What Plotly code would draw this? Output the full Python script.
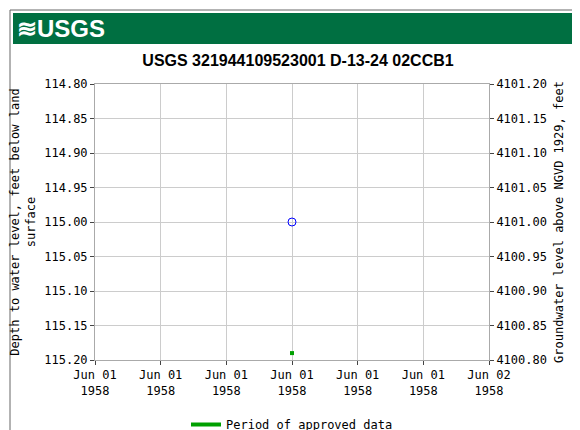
import plotly.graph_objects as go

title = "USGS 321944109523001 D-13-24 02CCB1"
tick_times = ["1958-06-01 00:00", "1958-06-01 04:00", "1958-06-01 08:00", "1958-06-01 12:00",
              "1958-06-01 16:00", "1958-06-01 20:00", "1958-06-02 00:00"]
tick_labels = ["Jun 01<br>1958"] * 6 + ["Jun 02<br>1958"]
point_time = ["1958-06-01 12:00"]
depth = [115.00]
approved_time = ["1958-06-01 12:00"]
approved_depth = [115.19]
left_ticks = [114.80, 114.85, 114.90, 114.95, 115.00, 115.05, 115.10, 115.15, 115.20]
right_ticks = [4101.20, 4101.15, 4101.10, 4101.05, 4101.00, 4100.95, 4100.90, 4100.85, 4100.80]

font = dict(family="DejaVu Sans Mono", size=12, color="black")
fig = go.Figure()
fig.add_trace(go.Scatter(x=point_time, y=depth, mode="markers", showlegend=False,
                         marker=dict(symbol="circle-open", size=8, color="#0000ff", line=dict(width=1))))
fig.add_trace(go.Scatter(x=approved_time, y=approved_depth, mode="markers", showlegend=False,
                         marker=dict(symbol="square", size=4, color="#00a000")))
fig.add_trace(go.Scatter(x=[None], y=[None], mode="lines", name="Period of approved data",
                         line=dict(color="#00a000", width=4)))
fig.add_trace(go.Scatter(x=point_time, y=[4101.0], yaxis="y2", mode="markers",
                         marker=dict(opacity=0), showlegend=False, hoverinfo="skip"))

axcommon = dict(showgrid=True, gridcolor="#cccccc", showline=True, linecolor="#aaaaaa",
                ticks="outside", ticklen=4, tickfont=font, zeroline=False, automargin=False)
W, H = 394, 276
fig.update_layout(
    width=580, height=430, margin=dict(l=87, r=99, t=76, b=78, autoexpand=False),
    paper_bgcolor="white", plot_bgcolor="white", font=font,
    title=dict(text="<b>" + title + "</b>", x=0.5, xanchor="center", y=1 - 52/430, yanchor="middle",
               font=dict(family="Liberation Sans Narrow, Arial Narrow, Liberation Sans", size=16)),
    xaxis=dict(type="date", range=[tick_times[0], tick_times[-1]], tickvals=tick_times,
               ticktext=tick_labels, mirror=True, **axcommon),
    yaxis=dict(range=[115.20, 114.80], tickvals=left_ticks,
               ticktext=[f"{v:.2f}" for v in left_ticks], mirror=True,
               title=dict(text="Depth to water level, feet below land<br>surface", font=font, standoff=8), **axcommon),
    yaxis2=dict(range=[4100.80, 4101.20], overlaying="y", side="right", tickvals=right_ticks,
                ticktext=[f"{v:.2f}" for v in right_ticks], showgrid=False, ticks="outside",
                ticklen=4, tickfont=font, zeroline=False, automargin=False,
                title=dict(text="Groundwater level above NGVD 1929, feet", font=font, standoff=8)),
    legend=dict(orientation="h", x=0.5, xanchor="center", y=-(402-352)/H, yanchor="top", font=font,
                bgcolor="rgba(0,0,0,0)"),
    shapes=[dict(type="rect", xref="paper", yref="paper", x0=-82/W, x1=(W+94)/W,
                 y0=(352-36)/H + 0, y1=(352-5)/H, fillcolor="#006f41", line=dict(width=0), layer="below"),
            dict(type="rect", xref="paper", yref="paper", x0=-85/W, x1=(W+97)/W,
                 y0=-(428-352)/H, y1=(352-2)/H, line=dict(color="#666666", width=1), fillcolor="rgba(0,0,0,0)")],
    annotations=[dict(text="<b>≋USGS</b>", xref="paper", yref="paper", x=-80/W, y=(352-20)/H,
                      xanchor="left", yanchor="middle", showarrow=False,
                      font=dict(family="Liberation Sans", size=24, color="white"))],
)
fig.write_html("out.html")
